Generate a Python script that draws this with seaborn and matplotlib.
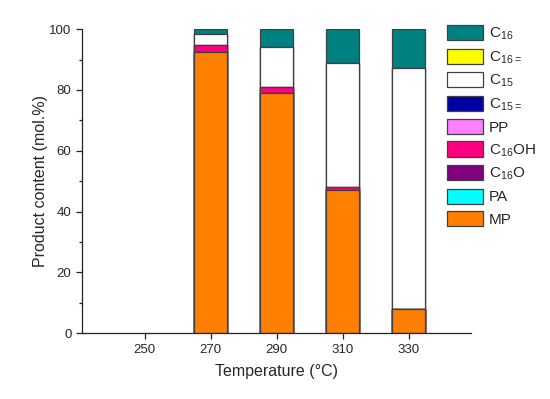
import numpy as np
import pandas as pd
import matplotlib
matplotlib.use('Agg')
import matplotlib.pyplot as plt
from matplotlib.patches import Patch
from matplotlib.ticker import MultipleLocator
import seaborn as sns

# data (mol.%)
temps = ['250', '270', '290', '310', '330']
MP = [0, 92.5, 79.0, 47.0, 7.8]
PA = [0, 0, 0, 0, 0]
C16O = [0, 0, 0, 0, 0]
C16OH = [0, 2.3, 2.0, 1.0, 0.3]
PP = [0, 0, 0, 0, 0]
C15_ene = [0, 0, 0, 0, 0]
C15 = [0, 3.6, 13.2, 40.9, 79.2]
C16_ene = [0, 0, 0, 0, 0]
C16 = [0, 1.6, 5.8, 11.1, 12.7]

series = [
    ('MP', MP, '#FF8000'),
    ('PA', PA, '#00FFFF'),
    (r'C$_{16}$O', C16O, '#800080'),
    (r'C$_{16}$OH', C16OH, '#FF0080'),
    ('PP', PP, '#FF80FF'),
    (r'C$_{15=}$', C15_ene, '#0000A0'),
    (r'C$_{15}$', C15, '#FFFFFF'),
    (r'C$_{16=}$', C16_ene, '#FFFF00'),
    (r'C$_{16}$', C16, '#008080'),
]

sns.set_style('ticks')
plt.rcParams['font.family'] = ['Liberation Sans', 'DejaVu Sans']
plt.rcParams['mathtext.default'] = 'regular'

fig = plt.figure(figsize=(5.5, 3.99), dpi=100)
ax = fig.add_axes([0.149, 0.165, 0.707, 0.762])

edge = '#404040'
cum = np.cumsum([np.array(s[1], dtype=float) for s in series], axis=0)
total = cum[-1]
cum[:, total == 0] = np.nan  # no bar at all where nothing was measured
# draw cumulative totals from the top layer down so the lower ones sit in front
for i in range(len(series) - 1, -1, -1):
    name, vals, col = series[i]
    sns.barplot(x=temps, y=cum[i], order=temps, color=col, saturation=1,
                width=0.5, edgecolor=edge, linewidth=0.9, ax=ax)

ax.set_xlim(-0.95, 4.94)
ax.set_ylim(0, 100)
ax.yaxis.set_major_locator(MultipleLocator(20))
ax.yaxis.set_minor_locator(MultipleLocator(10))
ax.tick_params(axis='both', which='major', length=4, width=0.9, labelsize=9.5, color='#222222')
ax.tick_params(axis='y', which='minor', length=2.5, width=0.9, color='#222222')
for s in ['top', 'right']:
    ax.spines[s].set_visible(False)
for s in ['left', 'bottom']:
    ax.spines[s].set_linewidth(0.9)
    ax.spines[s].set_color('#222222')

ax.set_xlabel('Temperature (°C)', fontsize=11.5, labelpad=6)
ax.set_ylabel('Product content (mol.%)', fontsize=11.5, labelpad=1)

handles = [Patch(facecolor=col, edgecolor=edge, linewidth=0.9, label=name)
           for name, vals, col in series[::-1]]
fig.legend(handles=handles, loc='upper left', bbox_to_anchor=(447 / 550, 1 - 25 / 399),
           frameon=False, fontsize=11, handlelength=2.35, handleheight=1.15,
           labelspacing=0.42, handletextpad=0.4, borderpad=0, borderaxespad=0)

fig.savefig('out.png', dpi=100)
